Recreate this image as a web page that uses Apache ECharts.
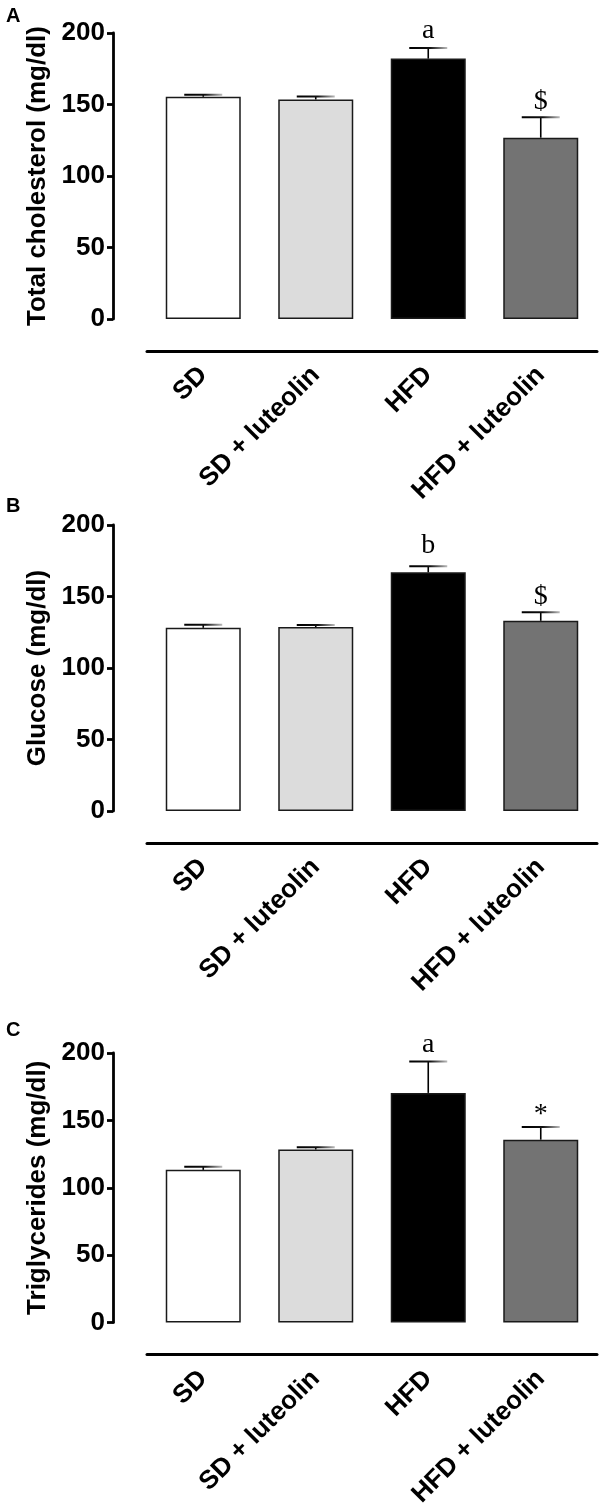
<!DOCTYPE html>
<html>
<head>
<meta charset="utf-8">
<script src="https://cdn.jsdelivr.net/npm/echarts@6/dist/echarts.min.js"></script>
<style>
  html, body { margin: 0; padding: 0; background: #fff; }
  #chart { width: 600px; height: 1510px; }
</style>
</head>
<body>
<div id="chart"></div>
<script>
var groups = ['SD', 'SD + luteolin', 'HFD', 'HFD + luteolin'];
var yMax = 200;
var yStep = 50;

// A: total cholesterol
var cholMean = [155.4, 153.5, 182.1, 126.8];
var cholSem = [1.4, 2.1, 7.4, 14.2];
var cholMarks = ['', '', 'a', '$'];
// B: glucose
var gluMean = [128.1, 128.6, 166.9, 133.0];
var gluSem = [2.1, 1.4, 4.2, 5.9];
var gluMarks = ['', '', 'b', '$'];
// C: triglycerides
var tgMean = [113.3, 128.4, 170.4, 135.7];
var tgSem = [2.4, 1.7, 23.3, 9.4];
var tgMarks = ['', '', 'a', '*'];

var barColors = ['#ffffff', '#dcdcdc', '#000000', '#737373'];
var sans = '"Liberation Sans", Arial, Helvetica, sans-serif';
var serif = '"Liberation Serif", "Times New Roman", serif';

var panels = [
  { letter: 'A', name: 'Total cholesterol (mg/dl)', mean: cholMean, sem: cholSem, marks: cholMarks, top: 33, height: 286 },
  { letter: 'B', name: 'Glucose (mg/dl)', mean: gluMean, sem: gluSem, marks: gluMarks, top: 525, height: 286 },
  { letter: 'C', name: 'Triglycerides (mg/dl)', mean: tgMean, sem: tgSem, marks: tgMarks, top: 1053, height: 277 }
];
var letterTop = [1, 491, 1015];

// how far above the cap each symbol sits (centre)
var lift = { a: 17, b: 21, $: 16, '*': 12 };

function errRender(marks) {
  return function (params, api) {
    var i = api.value(0);
    var base = api.coord([i, api.value(1)]);
    var top = api.coord([i, api.value(2)]);
    var half = 19;
    var capColor = new echarts.graphic.LinearGradient(top[0] - half, 0, top[0] + half, 0, [
      { offset: 0, color: '#000' },
      { offset: 0.55, color: '#111' },
      { offset: 1, color: '#bbb' }
    ], true);
    var children = [
      { type: 'line', shape: { x1: base[0], y1: base[1], x2: top[0], y2: top[1] }, style: { stroke: '#000', lineWidth: 1.6 } },
      { type: 'line', shape: { x1: top[0] - half, y1: top[1], x2: top[0] + half, y2: top[1] }, style: { stroke: capColor, lineWidth: 2 } }
    ];
    var m = marks[params.dataIndex];
    if (m) {
      children.push({
        type: 'text', x: top[0], y: top[1] - lift[m],
        style: { text: m, font: '28px ' + serif, fill: '#000', align: 'center', verticalAlign: 'middle' }
      });
    }
    return { type: 'group', children: children };
  };
}

var option = {
  backgroundColor: '#fff',
  animation: false,
  title: [],
  grid: [],
  xAxis: [],
  yAxis: [],
  series: []
};

panels.forEach(function (p, k) {
  option.title.push({
    text: p.letter, left: 1, top: letterTop[k],
    textStyle: { fontSize: 20, fontWeight: 'bold', color: '#000', fontFamily: sans }
  });
  option.grid.push({ left: 147, right: 3, top: p.top, height: p.height });
  option.xAxis.push({
    gridIndex: k,
    type: 'category',
    data: groups,
    offset: 32,
    axisLine: { onZero: false, lineStyle: { color: '#000', width: 3 } },
    axisTick: { show: false },
    axisLabel: {
      interval: 0, rotate: 45, margin: 20,
      fontSize: 26, fontWeight: 'bold', color: '#000', fontFamily: sans
    }
  });
  option.yAxis.push({
    gridIndex: k,
    type: 'value',
    min: 0, max: yMax, interval: yStep,
    offset: 34,
    name: p.name,
    nameLocation: 'middle',
    nameRotate: 90,
    nameGap: 59,
    nameTextStyle: { fontSize: 26, fontWeight: 'bold', color: '#000', fontFamily: sans },
    axisLine: { show: true, lineStyle: { color: '#000', width: 2.8 } },
    axisTick: { show: true, length: 6, lineStyle: { color: '#000', width: 2.8 } },
    axisLabel: { fontSize: 26, fontWeight: 'bold', color: '#000', margin: 8, fontFamily: sans },
    splitLine: { show: false }
  });
  option.series.push({
    type: 'bar',
    xAxisIndex: k,
    yAxisIndex: k,
    barWidth: 75,
    data: p.mean.map(function (v, i) {
      return { value: v, itemStyle: { color: barColors[i], borderColor: '#1a1a1a', borderWidth: 1.5 } };
    })
  });
  option.series.push({
    type: 'custom',
    xAxisIndex: k,
    yAxisIndex: k,
    z: 5,
    clip: false,
    renderItem: errRender(p.marks),
    data: p.mean.map(function (v, i) { return [i, v, v + p.sem[i]]; })
  });
});

var chart = echarts.init(document.getElementById('chart'));
chart.setOption(option);
</script>
</body>
</html>
